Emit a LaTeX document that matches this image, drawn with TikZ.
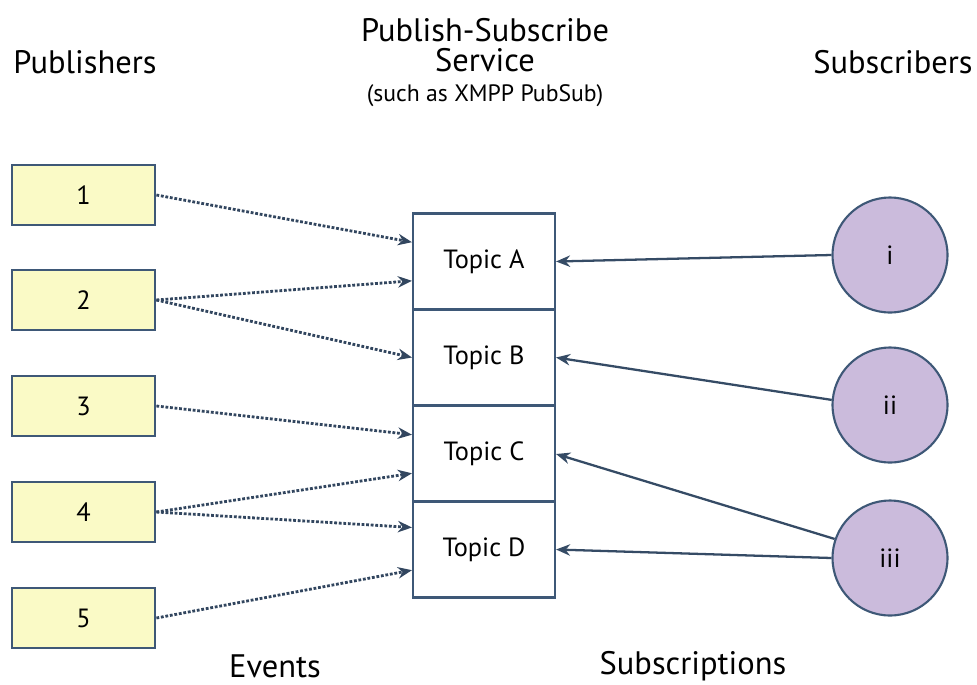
\documentclass[tikz,border=0pt]{standalone}
\usepackage{fontspec}
\setmainfont{PT Sans}
\usepackage{xcolor}
\usepackage{tikz}
\usetikzlibrary{shapes,positioning,arrows.meta}
\definecolor{edgeblue}{HTML}{3E5877}
\definecolor{pubfill}{HTML}{FAFAC6}
\definecolor{subfill}{HTML}{CBBBDC}
\tikzset{pub/.style={rectangle,draw=edgeblue,line width=1.6pt,fill=pubfill,minimum width=2.86cm,minimum height=1.2cm,font=\fontsize{15}{17}\selectfont}}
\tikzset{topic/.style={rectangle,draw=edgeblue,line width=1.2pt,fill=white,minimum width=2.84cm,minimum height=1.92cm,font=\fontsize{15}{17}\selectfont}}
\tikzset{sub/.style={circle,draw=edgeblue,line width=1.2pt,fill=subfill,minimum size=2.3cm,inner sep=0pt,font=\fontsize{15}{17}\selectfont}}
\tikzset{ev/.style={->,densely dotted,line width=1.6pt,draw=edgeblue!80!black}}
\tikzset{sb/.style={->,line width=1.3pt,draw=edgeblue!85!black}}
\tikzset{head/.style={font=\fontsize{18.5}{21}\selectfont,align=center}}

\begin{document}
\begin{tikzpicture}[>={Stealth[length=8pt,width=6.5pt]},x=0.02cm,y=-0.02cm]
    \useasboundingbox (0,0) rectangle (977,684);

    \node[head] (lpub)at (85,62) {Publishers};
    \node[head] (lsvc)at (485,45) {Publish-Subscribe\\[-4pt]Service};
    \node[font=\fontsize{13.5}{15}\selectfont] (lsuch)at (485,96) {(such as XMPP PubSub)};
    \node[head] (lsub)at (893,62) {Subscribers};
    \node[head] (lev)at (275,666) {Events};
    \node[head] (lsc)at (693,666) {Subscriptions};

    \node[pub] (p1)at (83.5,195) {1};
    \node[pub] (p2)at (83.5,300) {2};
    \node[pub] (p3)at (83.5,406) {3};
    \node[pub] (p4)at (83.5,512) {4};
    \node[pub] (p5)at (83.5,618) {5};

    \node[topic] (ta)at (484,261.5) {Topic A};
    \node[topic] (tb)at (484,357.5) {Topic B};
    \node[topic] (tc)at (484,454) {Topic C};
    \node[topic] (td)at (484,549.5) {Topic D};

    \node[sub] (s1)at (890,255) {i};
    \node[sub] (s2)at (890,405) {ii};
    \node[sub] (s3)at (890,558) {iii};

    \draw [ev] (p1.east) to [] (ta.165);
    \draw [ev] (p2.east) to [] (ta.195);
    \draw [ev] (p2.east) to [] (tb.west);
    \draw [ev] (p3.east) to [] (tc.165);
    \draw [ev] (p4.east) to [] (tc.195);
    \draw [ev] (p4.east) to [] (td.163);
    \draw [ev] (p5.east) to [] (td.196);

    \draw [sb] (s1.west) to [] (ta.east);
    \draw [sb] (s2.175) to [] (tb.east);
    \draw [sb] (s3.161) to [] (tc.east);
    \draw [sb] (s3.west) to [] (td.east);
\end{tikzpicture}
\end{document}
